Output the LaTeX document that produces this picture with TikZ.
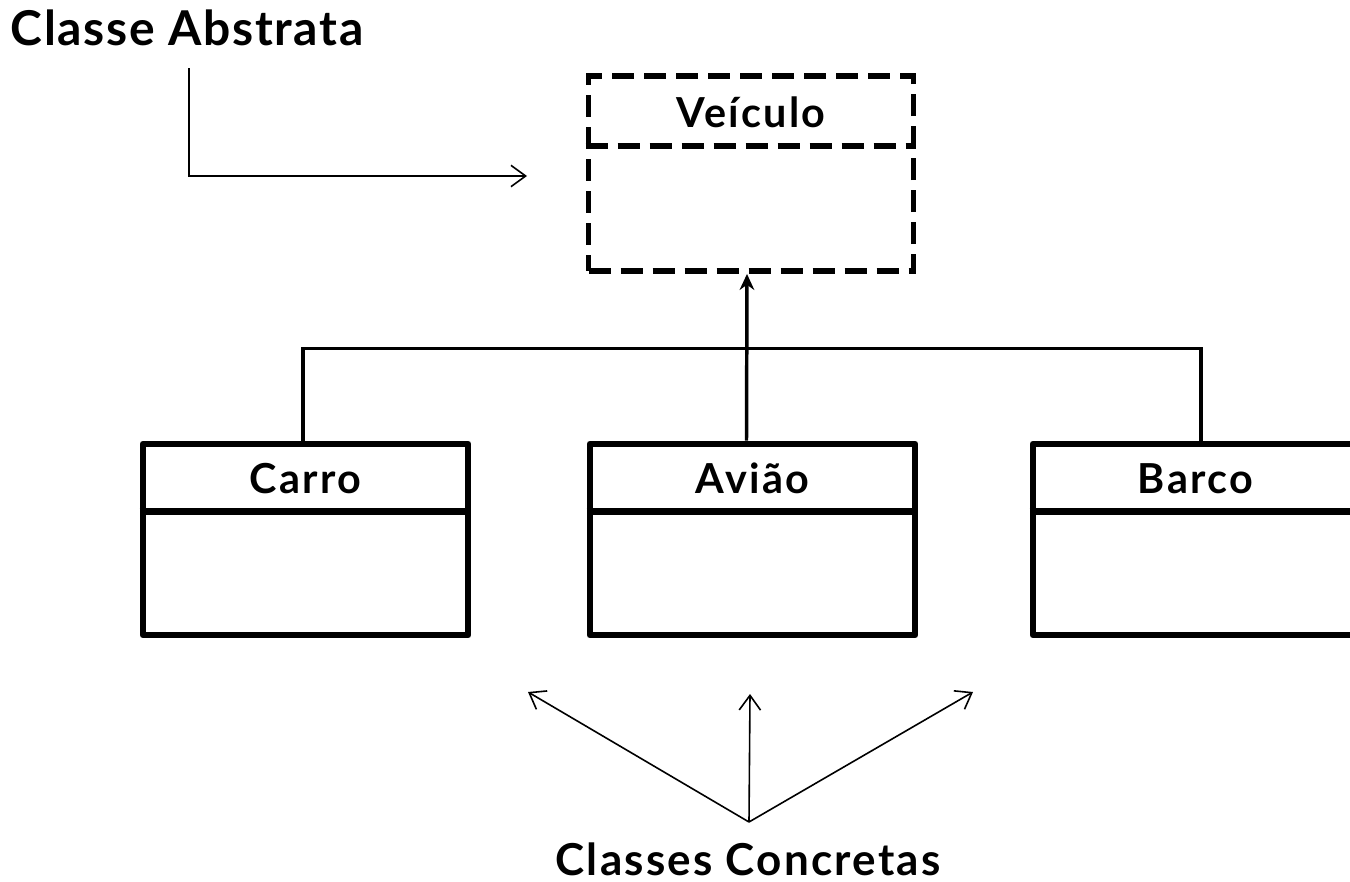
\documentclass[tikz,border=0pt]{standalone}
\usepackage{fontspec}
\setmainfont{Lato}
\usetikzlibrary{arrows.meta}
\tikzset{
  px/.style={x=0.75pt,y=-0.75pt},
  classbox/.style={draw,line width=5.2pt,minimum width=243.75pt,minimum height=143.25pt,inner sep=0pt,line join=round},
  dashbox/.style={draw,line width=4.4pt,dash pattern=on 16.5pt off 7.5pt,minimum width=243.75pt,inner sep=0pt},
  classtitle/.style={font=\bfseries\fontsize{31pt}{34pt}\selectfont\addfontfeatures{LetterSpace=5.5},text height=27pt,minimum width=243.75pt,minimum height=52.5pt,inner sep=0pt,anchor=north},
  sepline/.style={line width=5.2pt},
  bigtitle/.style={font=\bfseries\fontsize{36pt}{40pt}\selectfont\addfontfeatures{LetterSpace=3.5},inner sep=0pt},
  smalltitle/.style={font=\bfseries\fontsize{33pt}{37pt}\selectfont\addfontfeatures{LetterSpace=5},inner sep=0pt},
  pointer/.style={line width=1.2pt,-{Straight Barb[length=11pt,width=16pt,line width=1.2pt]}},
  inherit/.style={line width=2.3pt},
}
\begin{document}
\begin{tikzpicture}[px]
\useasboundingbox (0,0) rectangle (1350,882);
\clip (0,0) rectangle (1350,882);
% abstract class
\node[dashbox,minimum height=146.25pt] (veiculo) at (751,173.5) {};
\node[classtitle,minimum height=54pt] (veiculoT) at (veiculo.north) {Veículo};
\draw[line width=4.4pt,dash pattern=on 16.5pt off 7.5pt] (veiculo.west |- veiculoT.south) -- (veiculo.east |- veiculoT.south);
% concrete classes
\node[classbox] (carro) at (305.5,539.5) {};
\node[classtitle] (carroT) at (carro.north) {Carro};
\draw[sepline] (carro.west |- carroT.south) -- (carro.east |- carroT.south);
\node[classbox] (aviao) at (752.5,539.5) {};
\node[classtitle] (aviaoT) at (aviao.north) {Avião};
\draw[sepline] (aviao.west |- aviaoT.south) -- (aviao.east |- aviaoT.south);
\node[classbox] (barco) at (1195.5,539.5) {};
\node[classtitle] (barcoT) at (barco.north) {Barco};
\draw[sepline] (barco.west |- barcoT.south) -- (barco.east |- barcoT.south);
% inheritance
\draw[inherit,line width=2.6pt,-{Stealth[length=12pt,width=11pt]}] ([xshift=-4.5pt]aviao.north) -- ([xshift=-3pt]veiculo.south);
\draw[inherit] ([xshift=-1.9pt]carro.north) -- ++(0,-92) -| ([xshift=4.1pt]barco.north);
% labels
\node[bigtitle] (absT) at (187,28) {Classe Abstrata};
\coordinate (absStart) at (189,68);
\coordinate (absEnd) at (527,176);
\draw[pointer] (absStart) |- (absEnd);
\node[smalltitle] (concT) at (748,859) {Classes Concretas};
\coordinate (cc) at (749,822);
\coordinate (ccL) at (528,692);
\coordinate (ccM) at (750,694);
\coordinate (ccR) at (973,692);
\draw[pointer] (cc) -- (ccL);
\draw[pointer] (cc) -- (ccM);
\draw[pointer] (cc) -- (ccR);
\end{tikzpicture}
\end{document}
